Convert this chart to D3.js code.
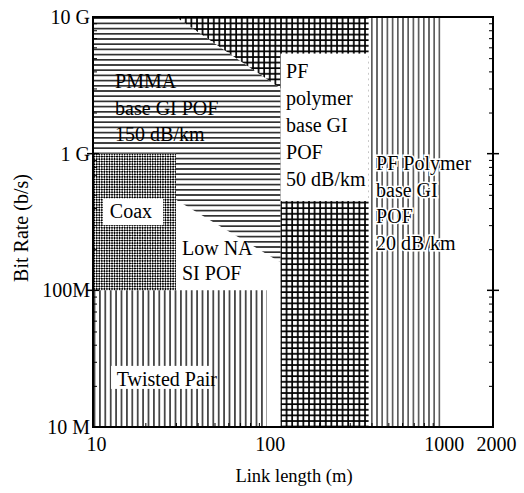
<!DOCTYPE html>
<html lang="en">
<head>
<meta charset="UTF-8">
<title>Bit rate vs link length</title>
<style>
    body { margin: 0; background: #fff; }
    svg { display: block; }
    text { font-family: "Liberation Serif", "DejaVu Serif", serif; fill: #000; }
    .tick text { font-size: 20px; }
    .lbl { font-size: 20px; }
</style>
</head>
<body>
<svg id="chart" width="524" height="493"></svg>
<script src="https://cdnjs.cloudflare.com/ajax/libs/d3/7.8.5/d3.min.js"></script>
<script>
// axis ticks
const xTickValues = [10, 100, 1000, 2000];
const xTickLabels = ["10", "100", "1000", "2000"];
const yTickValues = [1e7, 1e8, 1e9, 1e10];
const yTickLabels = ["10 M", "100M", "1 G", "10 G"];

// regions, [link length m, bit rate b/s]
const pmmaArea = [[10, 1e10], [30, 1e10], [120, 3e9], [120, 1.6e8], [30, 4.6e8], [30, 1e9], [10, 1e9]];
const coaxArea = [[10, 1e9], [30, 1e9], [30, 1e8], [10, 1e8]];
const twistedPairArea = [[10, 1e8], [100, 1e8], [100, 1e7], [10, 1e7]];
const pf50Area = [[30, 1e10], [385, 1e10], [385, 1e7], [120, 1e7], [120, 3e9]];
const pf20Area = [[385, 1e10], [1000, 1e10], [1000, 1e7], [385, 1e7]];

// white boxes behind labels: [x0, x1, y0, y1]
const labelBoxes = [[120, 385, 4.5e8, 5.4e9], [11.4, 25.3, 3e8, 4.7e8], [12.7, 48, 1.9e7, 2.8e7]];

// label text and anchors
const labelLines = [
    ["PMMA", "base GI POF", "150 dB/km"],
    ["PF", "polymer", "base GI", "POF", "50 dB/km"],
    ["PF Polymer", "base GI", "POF", "20 dB/km"],
    ["Coax"],
    ["Low NA", "SI POF"],
    ["Twisted Pair"]
];
const labelAnchors = [[13.4, 3e9], [129, 3.57e9], [425, 7.6e8], [12.5, 3.38e8], [32.5, 1.81e8], [13.7, 2e7]];

const svg = d3.select("#chart");
const mLeft = 93, mRight = 493, mTop = 17, mBottom = 427;

const x = d3.scaleLog().domain([10, 2000]).range([mLeft, mRight]);
const y = d3.scaleLog().domain([1e7, 1e10]).range([mBottom, mTop]);

// patterns
const defs = svg.append("defs");
const hl = defs.append("pattern").attr("id", "hlines").attr("patternUnits", "userSpaceOnUse")
    .attr("width", 9).attr("height", 5.2);
hl.append("line").attr("x1", 0).attr("x2", 9).attr("y1", 2.6).attr("y2", 2.6)
    .attr("stroke", "#000").attr("stroke-width", 1.4);

const vl = defs.append("pattern").attr("id", "vlines").attr("patternUnits", "userSpaceOnUse")
    .attr("width", 5.4).attr("height", 9);
vl.append("line").attr("x1", 2.7).attr("x2", 2.7).attr("y1", 0).attr("y2", 9)
    .attr("stroke", "#000").attr("stroke-width", 1.3);

const vl2 = defs.append("pattern").attr("id", "vlines2").attr("patternUnits", "userSpaceOnUse")
    .attr("width", 5.2).attr("height", 9);
vl2.append("line").attr("x1", 2.6).attr("x2", 2.6).attr("y1", 0).attr("y2", 9)
    .attr("stroke", "#000").attr("stroke-width", 1.1);

const gr = defs.append("pattern").attr("id", "grid").attr("patternUnits", "userSpaceOnUse")
    .attr("width", 5.6).attr("height", 5.6);
gr.append("line").attr("x1", 0).attr("x2", 5.6).attr("y1", 1).attr("y2", 1)
    .attr("stroke", "#000").attr("stroke-width", 1.7);
gr.append("line").attr("x1", 1).attr("x2", 1).attr("y1", 0).attr("y2", 5.6)
    .attr("stroke", "#000").attr("stroke-width", 1.7);

const ck = defs.append("pattern").attr("id", "checker").attr("patternUnits", "userSpaceOnUse")
    .attr("width", 3.6).attr("height", 3.6).attr("patternTransform", "rotate(45)");
ck.append("rect").attr("x", 0).attr("y", 0).attr("width", 1.8).attr("height", 1.8).attr("fill", "#000");
ck.append("rect").attr("x", 1.8).attr("y", 1.8).attr("width", 1.8).attr("height", 1.8).attr("fill", "#000");

const line = d3.line().x(d => x(d[0])).y(d => y(d[1]));

const areas = [
    [pmmaArea, "url(#hlines)"],
    [coaxArea, "url(#checker)"],
    [twistedPairArea, "url(#vlines)"],
    [pf50Area, "url(#grid)"],
    [pf20Area, "url(#vlines2)"]
];
svg.append("g").selectAll("path")
    .data(areas)
    .enter().append("path")
    .attr("d", d => line(d[0]) + "Z")
    .attr("fill", d => d[1]);

svg.append("g").selectAll("rect")
    .data(labelBoxes)
    .enter().append("rect")
    .attr("x", d => x(d[0]))
    .attr("y", d => y(d[3]))
    .attr("width", d => x(d[1]) - x(d[0]))
    .attr("height", d => y(d[2]) - y(d[3]))
    .attr("fill", "#fff");

// region labels
const lineHeights = [26.5, 27, 26.7, 26, 25, 26];
labelLines.forEach(function(lines, i) {
    const t = svg.append("text").attr("class", "lbl")
        .attr("x", x(labelAnchors[i][0]))
        .attr("y", y(labelAnchors[i][1]));
    if (i === 2) {
        t.attr("stroke", "#fff").attr("stroke-width", 3).attr("paint-order", "stroke");
    }
    t.selectAll("tspan")
        .data(lines)
        .enter().append("tspan")
        .attr("x", x(labelAnchors[i][0]))
        .attr("dy", (d, j) => j === 0 ? 0 : lineHeights[i])
        .text(d => d);
});

// minor ticks
const xMinor = [20, 30, 40, 50, 60, 70, 80, 90, 200, 300, 400, 500, 600, 700, 800, 900];
const yMinor = [];
[1e7, 1e8, 1e9].forEach(b => { for (let k = 2; k <= 9; k++) yMinor.push(b * k); });

svg.append("g").attr("transform", `translate(0,${mBottom})`)
    .call(d3.axisBottom(x).tickValues(xMinor).tickSize(-4).tickFormat(""))
    .call(g => g.select(".domain").remove());
svg.append("g").attr("transform", `translate(${mLeft},0)`)
    .call(d3.axisLeft(y).tickValues(yMinor).tickSize(-4).tickFormat(""))
    .call(g => g.select(".domain").remove());
svg.append("g").attr("transform", `translate(${mRight},0)`)
    .call(d3.axisRight(y).tickValues(yMinor).tickSize(-4).tickFormat(""))
    .call(g => g.select(".domain").remove());
// major ticks crossing both sides
[mLeft, mRight].forEach(function(px) {
    svg.append("g").selectAll("line")
        .data([1e8, 1e9])
        .enter().append("line")
        .attr("x1", px - 6).attr("x2", px + 6)
        .attr("y1", d => y(d)).attr("y2", d => y(d))
        .attr("stroke", "#000").attr("stroke-width", 1.5);
});

// tick labels
svg.append("g").attr("transform", `translate(0,${mBottom})`)
    .call(d3.axisBottom(x).tickValues(xTickValues).tickSize(0).tickPadding(10)
        .tickFormat((d, i) => xTickLabels[i]))
    .call(g => g.select(".domain").remove())
    .call(g => g.selectAll("text").attr("dx", 3));
svg.append("g").attr("transform", `translate(${mLeft},0)`)
    .call(d3.axisLeft(y).tickValues(yTickValues).tickSize(0).tickPadding(3)
        .tickFormat((d, i) => yTickLabels[i]))
    .call(g => g.select(".domain").remove());

// frame
svg.append("rect")
    .attr("x", mLeft).attr("y", mTop)
    .attr("width", mRight - mLeft).attr("height", mBottom - mTop)
    .attr("fill", "none").attr("stroke", "#000").attr("stroke-width", 2);

// axis titles
svg.append("text")
    .attr("x", 294).attr("y", 482)
    .attr("text-anchor", "middle")
    .style("font-size", "18.5px")
    .text("Link length (m)");
svg.append("text")
    .attr("transform", "translate(28,228) rotate(-90)")
    .attr("text-anchor", "middle")
    .style("font-size", "20px")
    .text("Bit Rate (b/s)");
</script>
</body>
</html>
